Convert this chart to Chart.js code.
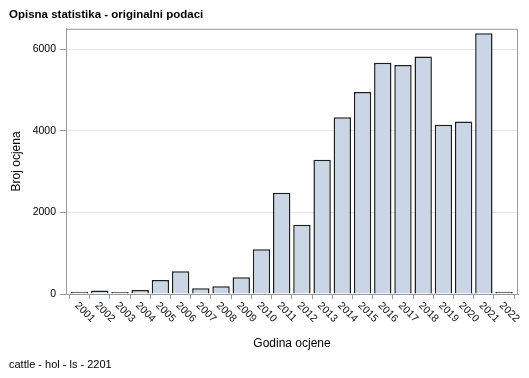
<!DOCTYPE html>
<html>
<head>
<meta charset="utf-8">
<script src="https://cdn.jsdelivr.net/npm/chart.js@4/dist/chart.umd.min.js"></script>
<style>
  html, body { margin: 0; padding: 0; background: #ffffff; }
  #wrap { width: 529px; height: 378px; position: relative; }
</style>
</head>
<body>
<div id="wrap"><canvas id="c" width="529" height="378"></canvas></div>
<script>
// ---- data ----
const years = ["2001","2002","2003","2004","2005","2006","2007","2008","2009","2010","2011",
               "2012","2013","2014","2015","2016","2017","2018","2019","2020","2021","2022"];
const counts = [55, 85, 50, 95, 345, 555, 140, 190, 410, 1095, 2480,
                1700, 3290, 4335, 4950, 5670, 5610, 5820, 4150, 4225, 6390, 55];
const yTicks = [0, 2000, 4000, 6000];
const titleText = "Opisna statistika - originalni podaci";
const footText = "cattle - hol - ls - 2201";
const xTitle = "Godina ocjene";
const yTitle = "Broj ocjena";

const FONT = "'Liberation Sans', Arial, Helvetica, sans-serif";
const frameColor = '#9a9a9a';

const framePlugin = {
  id: 'frame',
  afterDatasetsDraw(chart) {
    const {ctx, chartArea: a} = chart;
    ctx.save();
    ctx.strokeStyle = frameColor;
    ctx.lineWidth = 1;
    ctx.beginPath();
    ctx.moveTo(a.left, a.top + 0.5);
    ctx.lineTo(a.right - 0.5, a.top + 0.5);
    ctx.lineTo(a.right - 0.5, a.bottom);
    ctx.stroke();
    ctx.restore();
  },
  afterDraw(chart) {
    const {ctx} = chart;
    const xs = chart.scales.x;
    ctx.save();
    ctx.fillStyle = '#111';
    ctx.font = "10.5px " + FONT;
    ctx.textAlign = 'left';
    ctx.textBaseline = 'middle';
    years.forEach((yr) => {
      const px = xs.getPixelForValue(Number(yr));
      ctx.save();
      ctx.translate(px - 3, xs.top + 10);
      ctx.rotate(Math.PI / 4);
      ctx.fillText(yr, 0, 0);
      ctx.restore();
    });
    ctx.restore();
  }
};

new Chart(document.getElementById('c'), {
  type: 'bar',
  data: {
    labels: years,
    datasets: [{
      data: counts,
      backgroundColor: '#cad5e5',
      borderColor: '#1e1e1e',
      borderWidth: 1.5,
      borderSkipped: 'bottom',
      barPercentage: 0.86,
      categoryPercentage: 1.0
    }]
  },
  options: {
    responsive: false,
    animation: false,
    devicePixelRatio: 1,
    layout: { padding: { left: 9, right: 11, top: 0, bottom: 0 } },
    plugins: {
      legend: { display: false },
      tooltip: { enabled: false },
      title: {
        display: true, text: titleText, align: 'start', color: '#000',
        font: { family: FONT, size: 11.5, weight: 'bold' },
        padding: { top: 8, bottom: 7 }
      },
      subtitle: {
        display: true, text: footText, align: 'start', position: 'bottom', color: '#000',
        font: { family: FONT, size: 11, weight: 'normal' },
        padding: { top: 6, bottom: 6 }
      }
    },
    scales: {
      x: {
        type: 'linear',
        min: 2000.33, max: 2022.69,
        offset: false,
        afterBuildTicks(scale) {
          scale.ticks = years.map(v => ({ value: Number(v) }));
        },
        afterFit(scale) { scale.height = 58.8; },
        ticks: { display: false },
        grid: { display: true, drawOnChartArea: false, drawTicks: true, tickLength: 5, tickColor: frameColor, tickWidth: 1 },
        border: { display: true, color: frameColor, width: 1 },
        title: { display: true, text: xTitle, color: '#000', font: { family: FONT, size: 12 }, padding: { top: 4, bottom: 2 } }
      },
      y: {
        min: 0, max: 6500,
        afterBuildTicks(scale) {
          scale.ticks = yTicks.map(v => ({ value: v }));
        },
        afterFit(scale) { scale.width = 57; },
        ticks: { color: '#000', font: { family: FONT, size: 10.5 }, padding: 4,
                 callback: (v) => String(v) },
        grid: { color: '#e6e6e6', tickColor: frameColor, tickLength: 6, drawTicks: true },
        border: { display: true, color: frameColor, width: 1 },
        title: { display: true, text: yTitle, color: '#000', font: { family: FONT, size: 12 }, padding: { top: 0, bottom: 0 } }
      }
    }
  },
  plugins: [framePlugin]
});
</script>
</body>
</html>
